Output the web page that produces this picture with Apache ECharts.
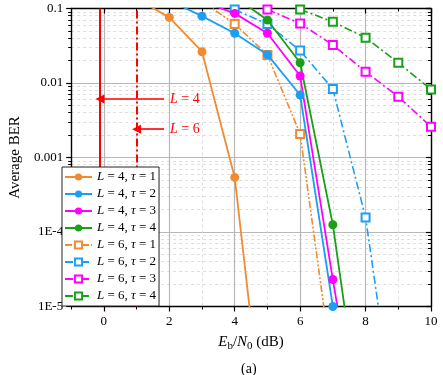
<!DOCTYPE html>
<html>
<head>
<meta charset="utf-8">
<title>Average BER</title>
<script src="https://cdn.jsdelivr.net/npm/echarts@6/dist/echarts.min.js"></script>
<style>
  html, body { margin: 0; padding: 0; background: #fff; }
  #main { width: 443px; height: 375px; }
</style>
</head>
<body>
<div id="main"></div>
<script>
const fontFamily = 'Liberation Serif'

/* x 轴: Eb/N0 (dB) */
const ebN0 = [1, 2, 3, 4, 5, 6, 7, 8, 9, 10]
const xMajor = [0, 2, 4, 6, 8, 10]
const xMinor = [-1, 1, 3, 5, 7, 9]

/* y 轴: 对数刻度 */
const yMajor = [1e-5, 1e-4, 1e-3, 1e-2, 1e-1]
const yTickLabels = ['1E-5', '1E-4', '0.001', '0.01', '0.1']
const yMinorMultipliers = [2, 3, 4, 5, 6, 7, 8, 9]

/* BER values, one per ebN0 entry */
const berL4T1 = [0.135, 0.076, 0.0263, 5.4e-4, 7.6e-8, null, null, null, null, null]
const berL4T2 = [null, 0.128, 0.079, 0.0465, 0.024, 0.0069, 1.0e-5, null, null, null]
const berL4T3 = [null, null, 0.125, 0.086, 0.0465, 0.0124, 2.3e-5, 5.8e-8, null, null]
const berL4T4 = [null, null, null, 0.143, 0.07, 0.0187, 1.25e-4, 1.0e-7, null, null]
const berL6T1 = [null, null, 0.125, 0.062, 0.0238, 0.00207, 1.3e-6, null, null, null]
const berL6T2 = [null, null, null, 0.097, 0.062, 0.0272, 0.0083, 1.56e-4, 1.4e-7, null]
const berL6T3 = [null, null, null, null, 0.097, 0.063, 0.0324, 0.0142, 0.00655, 0.00259]
const berL6T4 = [null, null, null, null, null, 0.097, 0.0665, 0.0406, 0.0187, 0.0082]

/* red thresholds and arrows */
const thresholdX = [-0.12, 1.0]
const thresholdLabels = ['L = 4', 'L = 6']
const arrowY = [0.0061, 0.0024]
const arrowTailX = 1.84

const seriesNames = [
  'L = 4, τ = 1', 'L = 4, τ = 2', 'L = 4, τ = 3', 'L = 4, τ = 4',
  'L = 6, τ = 1', 'L = 6, τ = 2', 'L = 6, τ = 3', 'L = 6, τ = 4'
]
const seriesValues = [berL4T1, berL4T2, berL4T3, berL4T4, berL6T1, berL6T2, berL6T3, berL6T4]
const colors = ['#f28a30', '#1a9ff5', '#ff00ff', '#18a018']

// minor tick positions of the log axis, in log10 space
const yMinorLog = []
for (let i = 0; i < yMajor.length - 1; i++) {
  for (const m of yMinorMultipliers) {
    yMinorLog.push(Math.log10(yMajor[i] * m))
  }
}

const italic = s => s.replace('L', '{i|L}').replace('τ', '{i|τ}')

function pairs(values) {
  const out = []
  for (let i = 0; i < ebN0.length; i++) {
    if (values[i] !== null) out.push([ebN0[i], values[i]])
  }
  return out
}

const series = seriesNames.map((name, i) => {
  const isL6 = i >= 4
  const color = colors[i % 4]
  return {
    name: name,
    type: 'line',
    xAxisIndex: 0,
    yAxisIndex: 0,
    data: pairs(seriesValues[i]),
    symbol: isL6 ? 'emptyRect' : 'circle',
    symbolSize: isL6 ? 8 : 9,
    color: color,
    itemStyle: { color: color, borderColor: color, borderWidth: isL6 ? 1.2 : 0 },
    lineStyle: {
      color: color,
      width: isL6 ? 1.6 : 1.8,
      type: isL6 ? (i === 4 ? [7, 2, 2, 2, 2, 2] : [8, 3, 2, 3]) : 'solid'
    },
    clip: true,
    animation: false,
    z: isL6 ? 3 : 4
  }
})

/* 红色阈值线与箭头 */
const redLabel = {
  show: true,
  position: 'start',
  distance: 6,
  color: '#ff0000',
  fontFamily: fontFamily,
  fontSize: 14,
  rich: { i: { fontStyle: 'italic', fontFamily: fontFamily, fontSize: 14, color: '#ff0000' } }
}
const arrowLine = { type: 'solid', color: '#ff0000', width: 1.6 }
series.push({
  name: 'threshold',
  type: 'line',
  data: [],
  animation: false,
  markLine: {
    silent: true,
    animation: false,
    symbol: 'none',
    label: { show: false },
    data: [
      { xAxis: thresholdX[0], lineStyle: { type: 'solid', color: '#ff0000', width: 2 } },
      { xAxis: thresholdX[1], lineStyle: { type: [8, 3, 2, 3], color: '#ff0000', width: 2 } },
      [
        { coord: [arrowTailX, arrowY[0]], symbol: 'none', lineStyle: arrowLine, label: Object.assign({ formatter: italic(thresholdLabels[0]) }, redLabel) },
        { coord: [thresholdX[0], arrowY[0]], symbol: 'triangle', symbolSize: [9, 9], itemStyle: { color: '#ff0000' } }
      ],
      [
        { coord: [arrowTailX, arrowY[1]], symbol: 'none', lineStyle: arrowLine, label: Object.assign({ formatter: italic(thresholdLabels[1]) }, redLabel) },
        { coord: [thresholdX[1], arrowY[1]], symbol: 'triangle', symbolSize: [9, 9], itemStyle: { color: '#ff0000' } }
      ]
    ]
  }
})

const axisText = { color: '#000', fontFamily: fontFamily, fontSize: 13 }
const frameLine = { show: true, onZero: false, lineStyle: { color: '#000', width: 1.4 } }
const noLine = { show: false, onZero: false }

const myChart = echarts.init(document.getElementById('main'))
myChart.setOption({
  animation: false,
  textStyle: { fontFamily: fontFamily },
  title: {
    text: '(a)',
    left: 236,
    top: 357,
    textStyle: { fontFamily: fontFamily, fontSize: 14, fontWeight: 'normal', color: '#000' }
  },
  grid: { left: 62, right: 12, top: 8.5, bottom: 68.5 },
  legend: {
    data: seriesNames,
    orient: 'vertical',
    left: 62,
    top: 167,
    itemWidth: 27,
    itemHeight: 9,
    itemGap: 3,
    padding: [3, 3, 3, 2],
    borderColor: '#222',
    borderWidth: 1,
    backgroundColor: '#fff',
    z: 10,
    formatter: name => italic(name),
    textStyle: {
      color: '#000',
      fontFamily: fontFamily,
      fontSize: 13,
      lineHeight: 14,
      rich: { i: { fontStyle: 'italic', fontFamily: fontFamily, fontSize: 13 } }
    }
  },
  xAxis: [
    {
      // bottom, major
      type: 'value',
      min: -1,
      max: 10,
      interval: 1,
      position: 'bottom',
      name: '{i|E}{s|b}/{i|N}{s|0} (dB)',
      nameLocation: 'middle',
      nameGap: 26,
      nameTextStyle: {
        color: '#000',
        fontFamily: fontFamily,
        fontSize: 15,
        lineHeight: 18,
        rich: {
          i: { fontStyle: 'italic', fontFamily: fontFamily, fontSize: 15, lineHeight: 18 },
          s: { fontFamily: fontFamily, fontSize: 11, lineHeight: 10, verticalAlign: 'bottom' }
        }
      },
      axisLine: frameLine,
      axisTick: { show: true, inside: false, length: 5, customValues: xMajor, lineStyle: { color: '#000', width: 1.2 } },
      axisLabel: Object.assign({ customValues: xMajor, margin: 9 }, axisText),
      splitLine: { show: true, lineStyle: { color: '#b8b8b8', width: 1.2 } }
    },
    {
      // bottom, minor
      type: 'value',
      min: -1,
      max: 10,
      interval: 1,
      position: 'bottom',
      axisLine: noLine,
      axisTick: { show: true, inside: false, length: 3, customValues: xMinor, lineStyle: { color: '#000', width: 1 } },
      axisLabel: { show: false },
      splitLine: { show: true, lineStyle: { color: '#d6d6d6', width: 0.8, type: [3, 3] } }
    },
    {
      // top, major
      type: 'value',
      min: -1,
      max: 10,
      interval: 1,
      position: 'top',
      axisLine: frameLine,
      axisTick: { show: true, inside: true, length: 5, customValues: xMajor, lineStyle: { color: '#000', width: 1.2 } },
      axisLabel: { show: false },
      splitLine: { show: false }
    },
    {
      // top, minor
      type: 'value',
      min: -1,
      max: 10,
      interval: 1,
      position: 'top',
      axisLine: noLine,
      axisTick: { show: true, inside: true, length: 3, customValues: xMinor, lineStyle: { color: '#000', width: 1 } },
      axisLabel: { show: false },
      splitLine: { show: false }
    }
  ],
  yAxis: [
    {
      // left, major (log)
      type: 'log',
      logBase: 10,
      min: yMajor[0],
      max: yMajor[yMajor.length - 1],
      position: 'left',
      name: 'Average BER',
      nameLocation: 'middle',
      nameGap: 40,
      nameTextStyle: { color: '#000', fontFamily: fontFamily, fontSize: 15 },
      axisLine: frameLine,
      axisTick: { show: true, inside: false, length: 5, lineStyle: { color: '#000', width: 1.2 } },
      axisLabel: Object.assign({
        margin: 8,
        formatter: v => {
          const k = yMajor.findIndex(t => Math.abs(Math.log10(t) - Math.log10(v)) < 1e-6)
          return k >= 0 ? yTickLabels[k] : ''
        }
      }, axisText),
      splitLine: { show: true, lineStyle: { color: '#b8b8b8', width: 1.2 } },
      minorTick: { show: false },
      minorSplitLine: { show: false }
    },
    {
      // left, minor ticks in log10 space
      type: 'value',
      min: Math.log10(yMajor[0]),
      max: Math.log10(yMajor[yMajor.length - 1]),
      interval: 1,
      position: 'left',
      axisLine: noLine,
      axisTick: { show: true, inside: false, length: 3, customValues: yMinorLog, lineStyle: { color: '#000', width: 1 } },
      axisLabel: { show: false },
      splitLine: { show: true, lineStyle: { color: '#d6d6d6', width: 0.8, type: [3, 3] } }
    },
    {
      // right, major
      type: 'log',
      logBase: 10,
      min: yMajor[0],
      max: yMajor[yMajor.length - 1],
      position: 'right',
      axisLine: frameLine,
      axisTick: { show: true, inside: true, length: 5, lineStyle: { color: '#000', width: 1.2 } },
      axisLabel: { show: false },
      splitLine: { show: false }
    },
    {
      // right, minor
      type: 'value',
      min: Math.log10(yMajor[0]),
      max: Math.log10(yMajor[yMajor.length - 1]),
      interval: 1,
      position: 'right',
      axisLine: noLine,
      axisTick: { show: true, inside: true, length: 3, customValues: yMinorLog, lineStyle: { color: '#000', width: 1 } },
      axisLabel: { show: false },
      splitLine: { show: false }
    }
  ],
  series: series
})
</script>
</body>
</html>
